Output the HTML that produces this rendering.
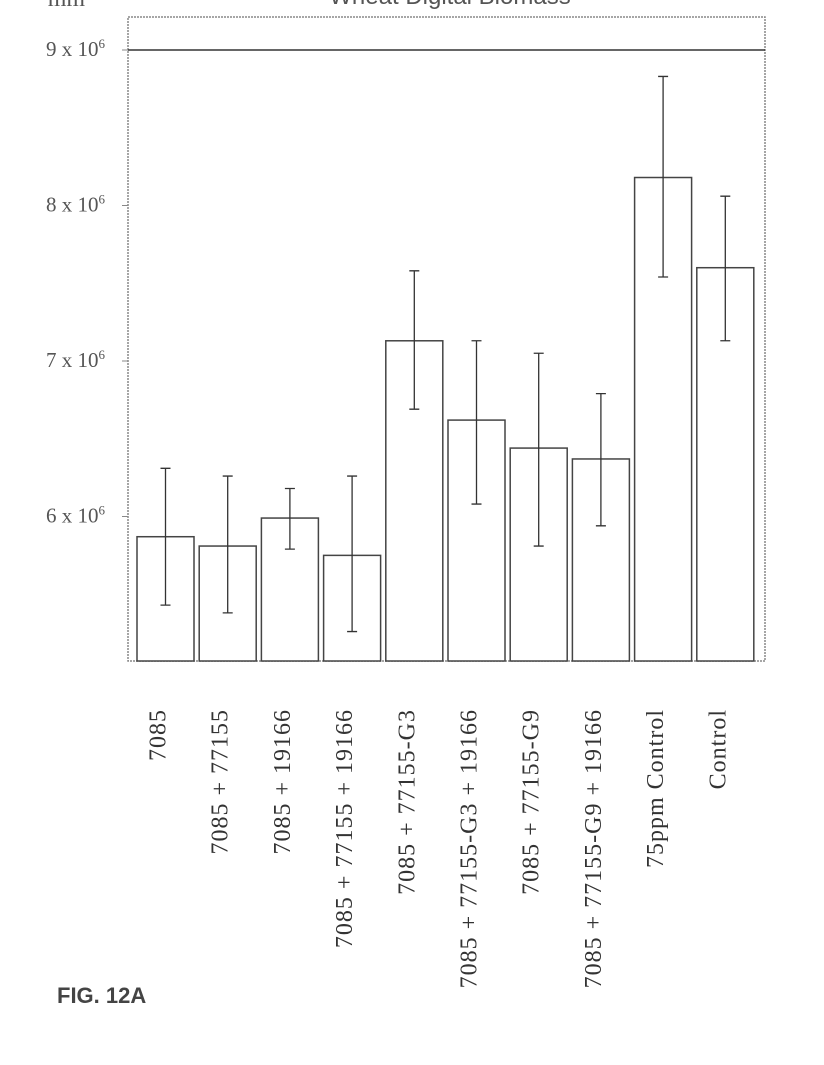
<!DOCTYPE html>
<html><head><meta charset="utf-8"><style>
body{margin:0;background:#fff;width:824px;height:1060px;overflow:hidden}
svg text{font-family:"Liberation Serif",serif;fill:#555}
</style></head><body>
<svg width="824" height="1060">
<text x="70" y="6" font-size="24" text-anchor="middle">mm³</text>
<text x="450" y="4" font-size="24" text-anchor="middle" style="font-family:'Liberation Sans',sans-serif">Wheat Digital Biomass</text>
<rect x="128" y="17" width="637" height="644" fill="none" stroke="#888" stroke-width="1.5" stroke-dasharray="2,1"/>
<g id="g"></g>
<text x="57" y="1003" font-size="22" font-weight="bold" style="font-family:'Liberation Sans',sans-serif;fill:#444">FIG. 12A</text>
</svg>
<script>
const categories=["7085","7085 + 77155","7085 + 19166","7085 + 77155 + 19166","7085 + 77155-G3","7085 + 77155-G3 + 19166","7085 + 77155-G9","7085 + 77155-G9 + 19166","75ppm Control","Control"];
const values=[5.87,5.81,5.99,5.75,7.13,6.62,6.44,6.37,8.18,7.60];
const errHigh=[6.31,6.26,6.18,6.26,7.58,7.13,7.05,6.79,8.83,8.06];
const errLow=[5.43,5.38,5.79,5.26,6.69,6.08,5.81,5.94,7.54,7.13];
const ticks=[6,7,8,9];
const NS="http://www.w3.org/2000/svg";
const g=document.getElementById('g');
const y=v=>50+(9-v)*155.5;
const x0=137,step=62.2,bw=57;
const yb=661;
function mk(t,a){const e=document.createElementNS(NS,t);for(const k in a)e.setAttribute(k,a[k]);g.appendChild(e);return e;}
ticks.forEach(t=>{
 const tx=mk('text',{x:105,y:y(t)+6,'font-size':21,'text-anchor':'end'});
 
 
 tx.innerHTML=t+' x 10<tspan dy="-8" font-size="13">6</tspan>';
 const l=mk('line',{x1:122,x2:128,y1:y(t),y2:y(t),stroke:'#888'});
 
 
});
const gl=mk('line',{x1:128,x2:765,y1:y(9),y2:y(9),stroke:'#333','stroke-width':1.5});


categories.forEach((c,i)=>{
 const bx=x0+i*step, cx=bx+bw/2;
 const r=mk('rect',{x:bx,y:y(values[i]),width:bw,height:yb-y(values[i]),fill:'#fff',stroke:'#444','stroke-width':1.5});
 
 
 const e=mk('path',{d:`M${cx-5},${y(errHigh[i])}h10M${cx},${y(errHigh[i])}V${y(errLow[i])}M${cx-5},${y(errLow[i])}h10`,stroke:'#333','stroke-width':1.3,fill:'none'});
 
 
 const t=mk('text',{x:0,y:0,'font-size':24,'text-anchor':'end','letter-spacing':'1',style:'fill:#333',transform:`translate(${cx},709) rotate(-90)`});
 
 
 t.textContent=c;
});
</script>
</body></html>
